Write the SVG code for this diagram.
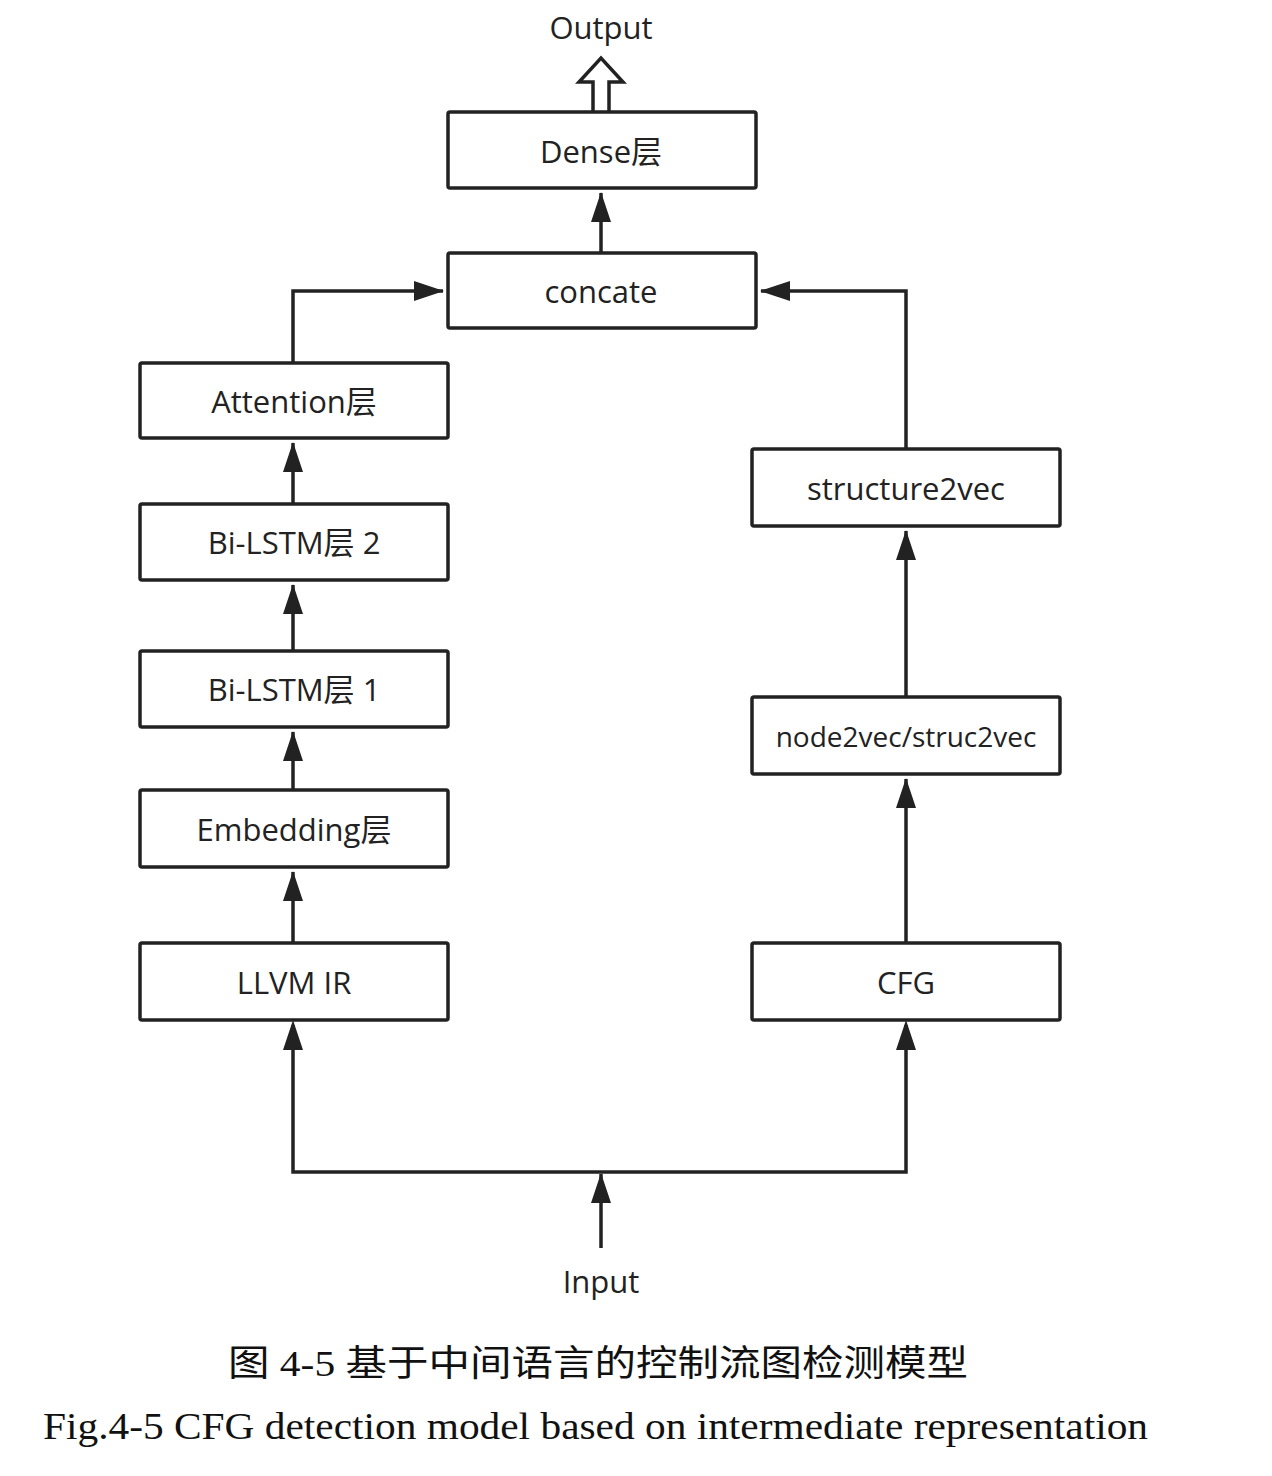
<svg xmlns="http://www.w3.org/2000/svg" width="1272" height="1476" viewBox="0 0 1272 1476">
<defs>
<style>
.box{fill:#fff;stroke:#222;stroke-width:3.5}
.lbl{font-family:"Open Sans","Noto Sans","Noto Sans CJK SC",sans-serif;font-size:31px;fill:#222;text-anchor:middle;dominant-baseline:central}
.con{fill:none;stroke:#222;stroke-width:3.5;stroke-linejoin:miter}
.cap{font-family:"Liberation Serif","Noto Sans CJK SC",serif;fill:#111}
</style>
<marker id="ah" viewBox="0 0 30 20" refX="29" refY="10" markerWidth="30" markerHeight="20" markerUnits="userSpaceOnUse" orient="auto">
<path d="M0,0 L30,10 L0,20 Z" fill="#222"/>
</marker>
</defs>
<rect width="1272" height="1476" fill="#fff"/>

<g id="connectors">
<path class="con" d="M601,253 V193" marker-end="url(#ah)"/>
<path class="con" d="M293,363 V291 H443" marker-end="url(#ah)"/>
<path class="con" d="M906,449 V291 H761" marker-end="url(#ah)"/>
<path class="con" d="M293,504 V443" marker-end="url(#ah)"/>
<path class="con" d="M293,651 V585" marker-end="url(#ah)"/>
<path class="con" d="M293,790 V732" marker-end="url(#ah)"/>
<path class="con" d="M293,943 V872" marker-end="url(#ah)"/>
<path class="con" d="M906,697 V531" marker-end="url(#ah)"/>
<path class="con" d="M906,943 V779" marker-end="url(#ah)"/>
<path class="con" d="M601,1248 V1174" marker-end="url(#ah)"/>
<path class="con" d="M293,1025 V1172 H906 V1025" />
<path d="M293,1020 l-10,30 h20 z M906,1020 l-10,30 h20 z" fill="#222"/>
<path id="out-arrow" d="M593,112 V82 H579 L601,58 L623,82 H609 V112" fill="#fff" stroke="#222" stroke-width="3.5" stroke-linejoin="miter"/>
</g>

<g id="n-output"><text class="lbl" x="601" y="27">Output</text></g>
<g id="n-dense"><rect class="box" x="448" y="112" width="308" height="76" rx="2"/><text class="lbl" x="601" y="151">Dense层</text></g>
<g id="n-concate"><rect class="box" x="448" y="253" width="308" height="75" rx="2"/><text class="lbl" x="601" y="291">concate</text></g>
<g id="n-attention"><rect class="box" x="140" y="363" width="308" height="75" rx="2"/><text class="lbl" x="294" y="401">Attention层</text></g>
<g id="n-bilstm2"><rect class="box" x="140" y="504" width="308" height="76" rx="2"/><text class="lbl" x="294" y="542">Bi-LSTM层 2</text></g>
<g id="n-bilstm1"><rect class="box" x="140" y="651" width="308" height="76" rx="2"/><text class="lbl" x="294" y="689">Bi-LSTM层 1</text></g>
<g id="n-embedding"><rect class="box" x="140" y="790" width="308" height="77" rx="2"/><text class="lbl" x="294" y="829">Embedding层</text></g>
<g id="n-llvm"><rect class="box" x="140" y="943" width="308" height="77" rx="2"/><text class="lbl" x="294" y="982">LLVM IR</text></g>
<g id="n-structure2vec"><rect class="box" x="752" y="449" width="308" height="77" rx="2"/><text class="lbl" x="906" y="488">structure2vec</text></g>
<g id="n-node2vec"><rect class="box" x="752" y="697" width="308" height="77" rx="2"/><text class="lbl" x="906" y="736" style="font-size:28px">node2vec/struc2vec</text></g>
<g id="n-cfg"><rect class="box" x="752" y="943" width="308" height="77" rx="2"/><text class="lbl" x="906" y="982">CFG</text></g>
<g id="n-input"><text class="lbl" x="601" y="1281">Input</text></g>

<g id="caption">
<text class="cap" x="228" y="1376" font-size="36" textLength="740" lengthAdjust="spacingAndGlyphs">图 4-5  基于中间语言的控制流图检测模型</text>
<text class="cap" x="43" y="1439" font-size="38" textLength="1105" lengthAdjust="spacingAndGlyphs">Fig.4-5 CFG detection model based on intermediate representation</text>
</g>
</svg>
